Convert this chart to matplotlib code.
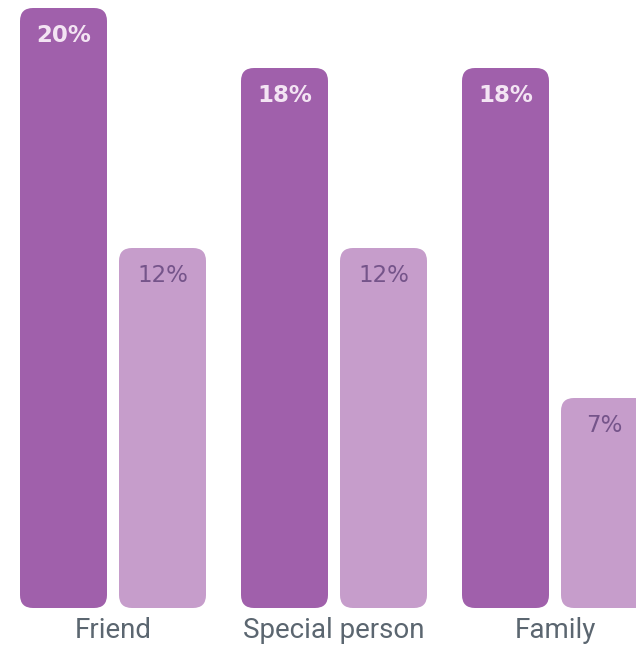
import matplotlib.pyplot as plt
from matplotlib.patches import FancyBboxPatch

groups = ["Friend", "Special person", "Family"]
dark_values = [20, 18, 18]
light_values = [12, 12, 7]

dark_color = "#a060ab"
light_color = "#c69dcb"

fig = plt.figure(figsize=(6.36, 6.5), dpi=100)
# axes fills the width; zero line sits 42px above the bottom edge
ax = fig.add_axes([0, 42 / 650, 1, 608 / 650])
ax.set_xlim(-113 / 221, 523 / 221)
ax.set_ylim(0, 608 / 30)
ax.axis("off")

width = 87 / 221
offset = 49.5 / 221
radius_px = 13

# pixels per data unit in x and y, used to keep the corners circular
px_x = 221
px_y = 30
aspect = px_x / px_y


def rounded_bars(xs, values, color):
    bars = ax.bar(xs, values, width=width, color=color)
    for bar in bars:
        bar.set_visible(False)
        x0, y0 = bar.get_x(), bar.get_y()
        w, h = bar.get_width(), bar.get_height()
        ax.add_patch(FancyBboxPatch(
            (x0, y0), w, h,
            boxstyle=f"round,pad=0,rounding_size={radius_px / px_x}",
            mutation_aspect=aspect,
            facecolor=color, edgecolor="none",
        ))
    return bars


xs = list(range(len(groups)))
rounded_bars([x - offset for x in xs], dark_values, dark_color)
rounded_bars([x + offset for x in xs], light_values, light_color)

label_drop = 28 / px_y
for x, v in zip(xs, dark_values):
    ax.text(x - offset, v - label_drop, f"{v}%", ha="center", va="center",
            fontsize=16.5, fontweight="bold", color="#f3e4f3")
for x, v in zip(xs, light_values):
    ax.text(x + offset, v - label_drop, f"{v}%", ha="center", va="center",
            fontsize=16.5, color="#75548a")

for x, g in zip(xs, groups):
    ax.text(x, -23 / px_y, g, ha="center", va="center",
            fontsize=20, family="Roboto", color="#5b6670")

fig.savefig("out.png", dpi=100)
